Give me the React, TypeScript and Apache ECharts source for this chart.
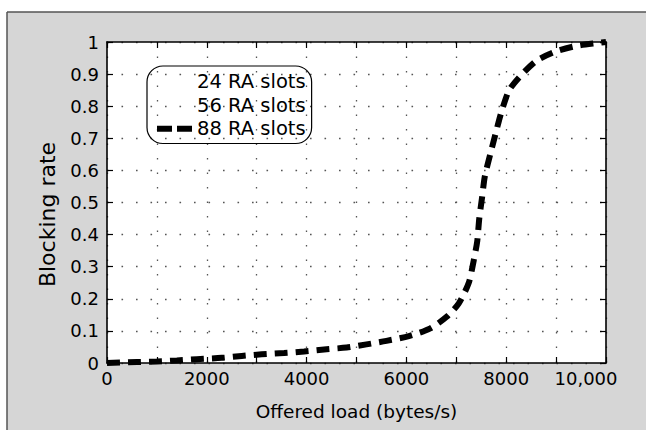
import React, { useEffect, useRef } from "react";
import * as echarts from "echarts";

// Offered load (bytes/s) and blocking rate
const loadX = [0, 600, 1000, 1400, 1800, 2300, 2700, 3100, 3550, 3950, 4400, 4800, 5200, 5600, 6050, 6480, 6800, 7050, 7250, 7350, 7420, 7460, 7520, 7570, 7680, 7780, 7900, 8060, 8320, 8620, 9020, 9420, 9840, 10000];
const rate88 = [0, 0.003, 0.005, 0.008, 0.012, 0.016, 0.022, 0.027, 0.031, 0.036, 0.043, 0.048, 0.058, 0.069, 0.084, 0.108, 0.143, 0.186, 0.25, 0.32, 0.38, 0.45, 0.52, 0.58, 0.65, 0.71, 0.78, 0.85, 0.9, 0.943, 0.972, 0.988, 0.997, 1.0];
// the 24- and 56-slot curves are not visible in the reference
const rate24: number[] = [];
const rate56: number[] = [];

const seriesNames = ["24 RA slots", "56 RA slots", "88 RA slots"];
const xTickValues = [0, 2000, 4000, 6000, 8000, 10000];
const xTickLabels = ["0", "2000", "4000", "6000", "8000", "10,000"];
const yTickLabels = ["0", "0.1", "0.2", "0.3", "0.4", "0.5", "0.6", "0.7", "0.8", "0.9", "1"];

const FONT = "DejaVu Sans";

export default function App() {
  const ref = useRef<HTMLDivElement>(null);
  useEffect(() => {
    if (!ref.current) return;
    const chart = echarts.init(ref.current, undefined, { renderer: "svg" });
    const pairs = (xs: number[], ys: number[]) => ys.map((y, i) => [xs[i], y]);
    const tickStyle = { inside: true, length: 6, lineStyle: { color: "#000", width: 1.2 } };
    const lineStyle = { color: "#000", width: 1.6 };
    const gridDots = { show: true, lineStyle: { type: [1.6, 12.9] as any, color: "#555", width: 1.3 } };
    chart.setOption({
      animation: false,
      graphic: [
        { type: "rect", z: -10, silent: true, shape: { x: 7, y: 12, width: 639, height: 418 }, style: { fill: "#d6d6d6" } },
        { type: "line", z: -9, silent: true, shape: { x1: 7, y1: 12, x2: 646, y2: 12 }, style: { stroke: "#555", lineWidth: 1.5 } },
        { type: "line", z: -9, silent: true, shape: { x1: 7, y1: 12, x2: 7, y2: 430 }, style: { stroke: "#555", lineWidth: 1.5 } },
      ],
      grid: { left: 107, right: 40, top: 42, bottom: 67, show: true, backgroundColor: "#fff", borderWidth: 0 },
      legend: {
        orient: "vertical",
        left: 147,
        top: 66,
        padding: [4, 6, 3, 10],
        itemGap: 0,
        itemWidth: 35,
        itemHeight: 6,
        borderColor: "#000",
        borderWidth: 1.2,
        borderRadius: 16,
        backgroundColor: "transparent",
        textStyle: { fontFamily: FONT, fontSize: 19.5, color: "#000", lineHeight: 23.5 },
        data: [
          { name: seriesNames[0], icon: "none" },
          { name: seriesNames[1], icon: "none" },
          { name: seriesNames[2], icon: "path://M0 0H15V6H0Z M20 0H35V6H20Z", itemStyle: { color: "#000" } },
        ],
      },
      xAxis: [
        {
          type: "value",
          min: 0,
          max: 10000,
          interval: 1000,
          position: "bottom",
          axisLine: { show: true, onZero: false, lineStyle },
          axisTick: tickStyle,
          splitLine: gridDots,
          axisLabel: {
            margin: 6,
            color: "#000",
            fontFamily: FONT,
            fontSize: 18,
            formatter: (v: number) => {
              const i = xTickValues.indexOf(Math.round(v));
              if (i < 0) return "";
              if (i === xTickValues.length - 1) return "{last|" + xTickLabels[i] + "}";
              return xTickLabels[i];
            },
            rich: { last: { fontFamily: FONT, fontSize: 18, color: "#000", padding: [0, 40, 0, 0] } },
          },
          name: "Offered load (bytes/s)",
          nameLocation: "middle",
          nameGap: 39,
          nameTextStyle: { fontFamily: FONT, fontSize: 18.5, color: "#000" },
        },
        {
          type: "value",
          min: 0,
          max: 10000,
          interval: 1000,
          position: "top",
          axisLine: { show: true, onZero: false, lineStyle },
          axisTick: tickStyle,
          axisLabel: { show: false },
          splitLine: { show: false },
        },
      ],
      yAxis: [
        {
          type: "value",
          min: 0,
          max: 1,
          interval: 0.1,
          position: "left",
          axisLine: { show: true, onZero: false, lineStyle },
          axisTick: tickStyle,
          splitLine: gridDots,
          axisLabel: {
            margin: 8,
            color: "#000",
            fontFamily: FONT,
            fontSize: 18,
            formatter: (v: number) => yTickLabels[Math.round(v * 10)] ?? "",
          },
          name: "Blocking rate",
          nameLocation: "middle",
          nameRotate: 90,
          nameGap: 49,
          nameTextStyle: { fontFamily: FONT, fontSize: 22, color: "#000", padding: [0, 24, 0, 0] },
        },
        {
          type: "value",
          min: 0,
          max: 1,
          interval: 0.1,
          position: "right",
          axisLine: { show: true, onZero: false, lineStyle },
          axisTick: tickStyle,
          axisLabel: { show: false },
          splitLine: { show: false },
        },
      ],
      series: [
        {
          name: seriesNames[0],
          type: "line",
          symbol: "none",
          data: pairs(loadX, rate24),
          lineStyle: { color: "#777", width: 1.5, type: "dotted" },
        },
        {
          name: seriesNames[1],
          type: "line",
          symbol: "none",
          data: pairs(loadX, rate56),
          lineStyle: { color: "#777", width: 1.5, type: "dotted" },
        },
        {
          name: seriesNames[2],
          type: "line",
          symbol: "none",
          smooth: 0.25,
          data: pairs(loadX, rate88),
          lineStyle: { color: "#000", width: 6, type: [13, 8] },
          z: 5,
        },
      ],
    });
    return () => chart.dispose();
  }, []);
  return (
    <div
      ref={ref}
      style={{ position: "absolute", left: 0, top: 0, width: 646, height: 430, background: "#fff" }}
    />
  );
}
